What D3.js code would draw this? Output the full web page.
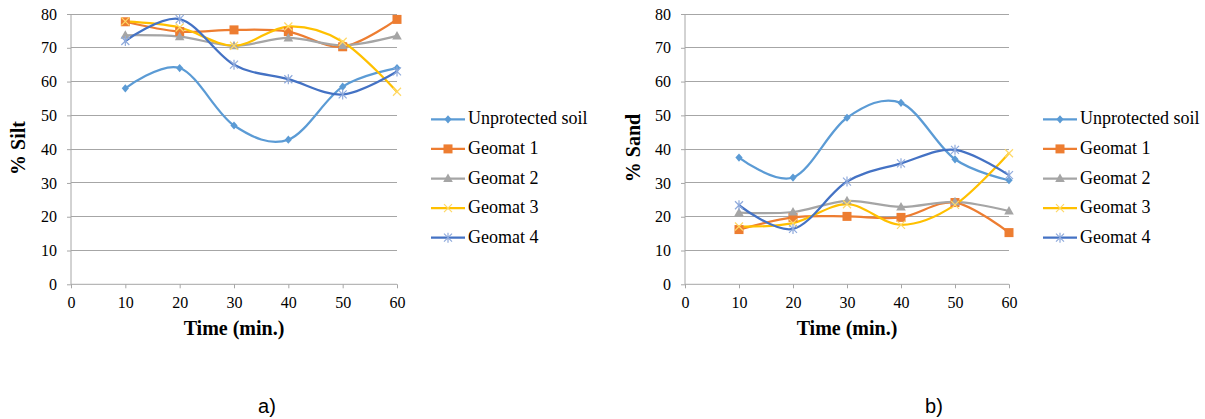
<!DOCTYPE html>
<html><head><meta charset="utf-8">
<script src="https://cdn.jsdelivr.net/npm/d3@7"></script>
<style>body{margin:0;background:#fff}svg{display:block}</style>
</head><body>
<svg id="c" width="1205" height="419"></svg>
<script>
const times = [10, 20, 30, 40, 50, 60];
const seriesNames = ["Unprotected soil", "Geomat 1", "Geomat 2", "Geomat 3", "Geomat 4"];
const colors = ["#5B9BD5", "#ED7D31", "#A5A5A5", "#FFC000", "#4472C4"];
const markers = ["diamond", "square", "triangle", "x", "star"];
const xTicks = [0, 10, 20, 30, 40, 50, 60];
const yTicks = [0, 10, 20, 30, 40, 50, 60, 70, 80];

const siltUnprotected = [58, 64, 47, 42.8, 58.5, 64];
const siltGeomat1 = [77.7, 74.8, 75.3, 74.8, 70.3, 78.4];
const siltGeomat2 = [73.7, 73.3, 70.6, 72.9, 70.7, 73.5];
const siltGeomat3 = [77.8, 76, 70.6, 76.3, 71.8, 57];
const siltGeomat4 = [72, 78.5, 65, 60.7, 56.2, 63];

const sandUnprotected = [37.5, 31.6, 49.3, 53.7, 37, 30.8];
const sandGeomat1 = [16.2, 19.8, 20.1, 19.8, 24.2, 15.3];
const sandGeomat2 = [21.2, 21.4, 24.7, 22.9, 24.4, 21.7];
const sandGeomat3 = [17.1, 18.1, 23.7, 17.6, 23.5, 38.8];
const sandGeomat4 = [23.4, 16.4, 30.4, 35.8, 39.8, 32.3];

const svg = d3.select("#c");
const serif = "'Liberation Serif','Times New Roman',serif";

function marker(g, type, color, x, y) {
  const s = 3.6;
  if (type === "diamond") {
    g.append("path").attr("d", `M${x},${y - s - 0.5}L${x + s},${y}L${x},${y + s + 0.5}L${x - s},${y}Z`).attr("fill", color);
  } else if (type === "square") {
    g.append("rect").attr("x", x - 4.5).attr("y", y - 4.5).attr("width", 9).attr("height", 9).attr("fill", color);
  } else if (type === "triangle") {
    g.append("path").attr("d", `M${x},${y - 5}L${x + 4.8},${y + 3.5}L${x - 4.8},${y + 3.5}Z`).attr("fill", color);
  } else if (type === "x") {
    g.append("path").attr("d", `M${x - 4},${y - 4}L${x + 4},${y + 4}M${x - 4},${y + 4}L${x + 4},${y - 4}`).attr("stroke", "#FFD966").attr("stroke-width", 1.2);
  } else if (type === "star") {
    g.append("path").attr("d", `M${x - 4},${y - 4}L${x + 4},${y + 4}M${x - 4},${y + 4}L${x + 4},${y - 4}M${x},${y - 5}L${x},${y + 5}`).attr("stroke", "#8FAADC").attr("stroke-width", 1.2);
  }
}

function chart(opts) {
  const x = d3.scaleLinear().domain([0, 60]).range([opts.x0, opts.x1]);
  const y = d3.scaleLinear().domain([0, 80]).range([284.3, 14]);
  const g = svg.append("g");

  g.append("g").selectAll("line").data(yTicks.filter(d => d > 0)).join("line")
    .attr("x1", opts.x0).attr("x2", opts.x1)
    .attr("y1", d => y(d)).attr("y2", d => y(d))
    .attr("stroke", "#a6a6a6").attr("stroke-width", 1).attr("shape-rendering", "crispEdges");

  const ya = g.append("g").attr("transform", `translate(${opts.x0},0)`)
    .call(d3.axisLeft(y).tickValues(yTicks).tickSize(4).tickPadding(10).tickFormat(d3.format("d")));
  ya.select(".domain").attr("stroke", "#a6a6a6").attr("d", `M0,${y(80)}V${y(0)}`);
  ya.selectAll(".tick line").attr("stroke", "#a6a6a6");
  ya.selectAll("text").attr("font-family", serif).attr("font-size", 16).attr("fill", "#000");

  const xa = g.append("g").attr("transform", `translate(0,${y(0)})`)
    .call(d3.axisBottom(x).tickValues(xTicks).tickSize(4).tickPadding(8).tickFormat(d3.format("d")));
  xa.select(".domain").attr("stroke", "#a6a6a6").attr("d", `M${opts.x0},0H${opts.x1}`);
  xa.selectAll(".tick line").attr("stroke", "#a6a6a6");
  xa.selectAll("text").attr("font-family", serif).attr("font-size", 16).attr("fill", "#000");

  g.append("text").attr("x", (opts.x0 + opts.x1) / 2).attr("y", 335)
    .attr("text-anchor", "middle").attr("font-family", serif).attr("font-weight", "bold")
    .attr("font-size", 20).text("Time (min.)");
  g.append("text").attr("transform", `translate(${opts.ylx},148) rotate(-90)`)
    .attr("text-anchor", "middle").attr("font-family", serif).attr("font-weight", "bold")
    .attr("font-size", 20).text(opts.ylabel);

  const line = d3.line().x((d, i) => x(times[i])).y(d => y(d)).curve(d3.curveCardinal.tension(0));
  opts.data.forEach((vals, si) => {
    g.append("path").attr("d", line(vals)).attr("fill", "none")
      .attr("stroke", colors[si]).attr("stroke-width", 2.25).attr("stroke-linecap", "round");
  });
  opts.data.forEach((vals, si) => {
    const mg = g.append("g");
    vals.forEach((v, i) => marker(mg, markers[si], colors[si], x(times[i]), y(v)));
  });

  const lg = g.append("g");
  seriesNames.forEach((name, i) => {
    const yy = 119.3 + i * 29.6;
    lg.append("line").attr("x1", opts.lx).attr("x2", opts.lx + 34).attr("y1", yy).attr("y2", yy)
      .attr("stroke", colors[i]).attr("stroke-width", 2.25);
    marker(lg, markers[i], colors[i], opts.lx + 17, yy);
    lg.append("text").attr("x", opts.lx + 37).attr("y", yy + 5)
      .attr("font-family", serif).attr("font-size", 18).attr("fill", "#000").text(name);
  });

  g.append("text").attr("x", opts.capx).attr("y", 413).attr("text-anchor", "middle")
    .attr("font-family", "'Liberation Sans',Arial,sans-serif").attr("font-size", 20).text(opts.caption);
}

chart({x0: 71, x1: 397, ylabel: "% Silt", ylx: 25, lx: 431, capx: 267, caption: "a)",
  data: [siltUnprotected, siltGeomat1, siltGeomat2, siltGeomat3, siltGeomat4]});
chart({x0: 685, x1: 1009, ylabel: "% Sand", ylx: 640, lx: 1043, capx: 934, caption: "b)",
  data: [sandUnprotected, sandGeomat1, sandGeomat2, sandGeomat3, sandGeomat4]});
</script>
</body></html>
